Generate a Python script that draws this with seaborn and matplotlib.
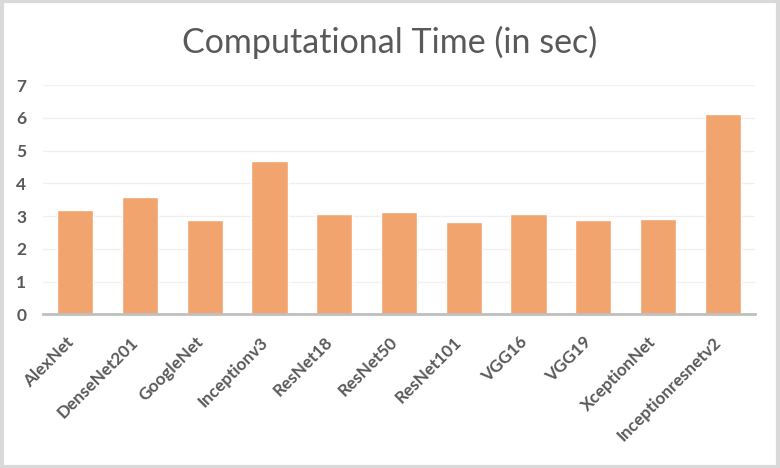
import matplotlib
matplotlib.use("Agg")
import matplotlib.pyplot as plt
import matplotlib.transforms as mtransforms
import seaborn as sns
import pandas as pd
from matplotlib.patches import Rectangle

models = ["AlexNet", "DenseNet201", "GoogleNet", "Inceptionv3", "ResNet18", "ResNet50",
          "ResNet101", "VGG16", "VGG19", "XceptionNet", "Inceptionresnetv2"]
times = [3.18, 3.58, 2.88, 4.69, 3.08, 3.14, 2.83, 3.06, 2.87, 2.93, 6.13]
yticks = [0, 1, 2, 3, 4, 5, 6, 7]
title = "Computational Time (in sec)"

sns.set_theme(style="white")
plt.rcParams['font.family'] = ['Lato', 'DejaVu Sans']

df = pd.DataFrame({"model": models, "time": times})

fig = plt.figure(figsize=(7.8, 4.68), dpi=100)
ax = fig.add_axes([0.055, 0.328, 0.913, 0.49])
sns.barplot(data=df, x="model", y="time", color="#F2A46E", saturation=1, width=0.56, ax=ax)

ax.set_ylim(0, 7)
ax.set_yticks(yticks)
ax.set_xlim(-0.5, len(models) - 0.5)
ax.yaxis.grid(True, color="#F0F0F0", linewidth=1)
ax.set_axisbelow(True)
for s in ["top", "right", "left"]:
    ax.spines[s].set_visible(False)
ax.spines["bottom"].set_color("#BFBFBF")
ax.spines["bottom"].set_linewidth(2)
ax.set_xlabel("")
ax.set_ylabel("")
ax.tick_params(axis="both", length=0)
ax.tick_params(axis="y", pad=12)
for lab in ax.get_yticklabels():
    lab.set_fontsize(12.5)
    lab.set_color("#595959")
    lab.set_fontweight("bold")
ax.set_xticks(range(len(models)))
ax.set_xticklabels(models, rotation=45, ha="right", va="center", rotation_mode="anchor",
                   fontsize=12.3, color="#595959", fontweight="bold")
ax.tick_params(axis="x", pad=18)
offset = mtransforms.ScaledTranslation(-3 / 72, 0, fig.dpi_scale_trans)
for lab in ax.get_xticklabels():
    lab.set_transform(lab.get_transform() + offset)

fig.text(0.5, 0.91, title, ha="center", va="center", fontsize=24.5, color="#595959")

fig.patches.append(Rectangle((0.002, 0.003), 0.996, 0.994, transform=fig.transFigure,
                             fill=False, edgecolor="#D9D9D9", linewidth=3))

fig.savefig("out.png", dpi=100, facecolor="white")
